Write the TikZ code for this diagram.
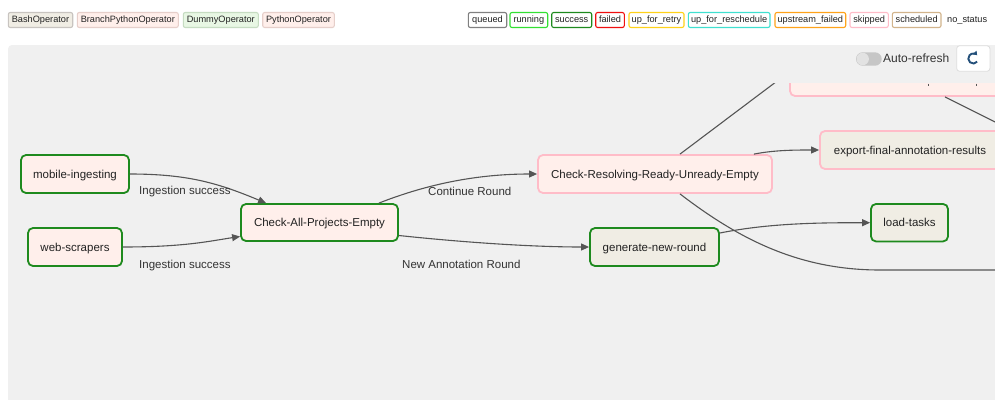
\documentclass[tikz,border=0pt]{standalone}
\usepackage{fontspec}
\setmainfont{Liberation Sans}
\usetikzlibrary{arrows.meta,calc}

% operator fills
\definecolor{bashfill}{HTML}{F0EDE4}
\definecolor{pyfill}{HTML}{FFEFEB}
\definecolor{dummyfill}{HTML}{E8F7E4}
\definecolor{opborder}{HTML}{C8C4C0}
\definecolor{pyborder}{HTML}{E6CFCA}
\definecolor{dummyborder}{HTML}{C6DCC2}
% task state borders
\definecolor{stqueued}{HTML}{808080}
\definecolor{strunning}{HTML}{33E033}
\definecolor{stsuccess}{HTML}{1E8A1E}
\definecolor{stfailed}{HTML}{F01010}
\definecolor{stretry}{HTML}{FFD21A}
\definecolor{stresched}{HTML}{40E0D0}
\definecolor{stupfail}{HTML}{FFA31A}
\definecolor{stskipped}{HTML}{FFBCC8}
\definecolor{stsched}{HTML}{D2B48C}
% canvas and lines
\definecolor{panel}{HTML}{F0F0F0}
\definecolor{edgegray}{HTML}{555555}
\definecolor{txt}{HTML}{222222}
\definecolor{lbl}{HTML}{333333}
\definecolor{pill}{HTML}{C6C6C6}
\definecolor{knob}{HTML}{E2E2E2}
\definecolor{btnborder}{HTML}{DDDDDD}
\definecolor{iconblue}{HTML}{24507A}

\begin{document}
\begin{tikzpicture}[x=1pt,y=-1pt,
  legendbox/.style={draw, rounded corners=2pt, line width=1.1pt, inner sep=0pt,
    minimum height=15pt, fill=white, text=txt, font=\fontsize{9.2}{11}\selectfont,
    text height=7pt, text depth=2pt},
  task/.style={rounded corners=5pt, line width=1.8pt, inner sep=0pt,
    text=txt, font=\fontsize{11.5}{13}\selectfont, text height=10pt, text depth=2pt},
  donebox/.style={task, draw=stsuccess},
  skipbox/.style={task, draw=stskipped},
  edge/.style={draw=edgegray, line width=1.1pt,
    -{Triangle[length=8pt,width=7pt]}},
  plainedge/.style={draw=edgegray, line width=1.1pt},
  edgelabel/.style={inner sep=0pt, anchor=west, text=lbl,
    font=\fontsize{11.5}{13}\selectfont, text height=10pt, text depth=2pt}
]
\useasboundingbox (0,0) rectangle (995,399);
\fill[white] (0,0) rectangle (995,399);

% operator legend
\node[legendbox, fill=bashfill, draw=opborder, minimum width=64.4pt] (lg-bash) at (40.5,20) {BashOperator};
\node[legendbox, fill=pyfill, draw=pyborder, minimum width=101pt] (lg-branch) at (127.8,20) {BranchPythonOperator};
\node[legendbox, fill=dummyfill, draw=dummyborder, minimum width=75pt] (lg-dummy) at (220.8,20) {DummyOperator};
\node[legendbox, fill=pyfill, draw=pyborder, minimum width=71.6pt] (lg-python) at (298.5,20) {PythonOperator};

% state legend
\node[legendbox, draw=stqueued, minimum width=38.4pt] (st-queued) at (487.5,20) {queued};
\node[legendbox, draw=strunning, minimum width=37.7pt] (st-running) at (528.85,20) {running};
\node[legendbox, draw=stsuccess, minimum width=40pt] (st-success) at (571.7,20) {success};
\node[legendbox, draw=stfailed, minimum width=28.6pt] (st-failed) at (610,20) {failed};
\node[legendbox, draw=stretry, minimum width=55pt] (st-retry) at (656.5,20) {up\_for\_retry};
\node[legendbox, draw=stresched, minimum width=81.7pt] (st-resched) at (729.15,20) {up\_for\_reschedule};
\node[legendbox, draw=stupfail, minimum width=70.7pt] (st-upfail) at (810.35,20) {upstream\_failed};
\node[legendbox, draw=stskipped, minimum width=38.3pt] (st-skipped) at (869.15,20) {skipped};
\node[legendbox, draw=stsched, minimum width=48.7pt] (st-sched) at (916.65,20) {scheduled};
\node[inner sep=0pt, anchor=west, text=txt, font=\fontsize{9.2}{11}\selectfont,
  text height=7pt, text depth=2pt] (st-none) at (947,20) {no\_status};

% graph canvas
\fill[panel, rounded corners=4pt] (8,45) rectangle (1010,420);

% auto-refresh switch and refresh button
\fill[pill, rounded corners=6.7pt] (856,52.3) rectangle (881.7,65.7);
\fill[knob] (862.7,59) circle (6.2);
\node[inner sep=0pt, anchor=west, text=lbl, font=\fontsize{12}{14}\selectfont] (autorefresh) at (883,58) {Auto-refresh};
\node[draw=btnborder, fill=white, rounded corners=3pt, line width=0.8pt,
  minimum width=33.3pt, minimum height=25.6pt, inner sep=0pt] (refresh) at (973.3,58.5) {};
\draw[iconblue, line width=1.9pt, -{Triangle[length=3.6pt,width=5pt]}]
  ($(refresh.center)+(40:5)$) arc[start angle=40, end angle=318, radius=5];

\begin{scope}
\clip (8,83.5) rectangle (995,399);

% tasks
\node[donebox, fill=pyfill, minimum width=108pt, minimum height=38pt] (mobile) at (75,174) {mobile-ingesting};
\node[donebox, fill=pyfill, minimum width=94pt, minimum height=38pt] (web) at (75,247) {web-scrapers};
\node[donebox, fill=pyfill, minimum width=157pt, minimum height=37pt] (checkall) at (319.5,222.5) {Check-All-Projects-Empty};
\node[skipbox, fill=pyfill, minimum width=234pt, minimum height=38pt] (checkres) at (655,174) {Check-Resolving-Ready-Unready-Empty};
\node[donebox, fill=bashfill, minimum width=129pt, minimum height=38pt] (newround) at (654.5,247) {generate-new-round};
\node[skipbox, fill=bashfill, minimum width=180pt, minimum height=38pt] (export) at (910,150) {export-final-annotation-results};
\node[donebox, fill=bashfill, minimum width=77pt, minimum height=37.5pt] (loadtasks) at (909.5,222.7) {load-tasks};
\node[skipbox, fill=pyfill, minimum width=220pt, minimum height=38pt] (upper) at (900,77) {};

% loose ends running off the canvas
\coordinate (offright) at (1010,270);
\coordinate (offlower) at (1010,129.5);
\coordinate (tickA) at (928,83.5);
\coordinate (tickB) at (976,83.5);

% dependencies
\draw[edge] (mobile.east) .. controls (190,174) and (220,184) .. ($(checkall.north west)+(26,0)$);
\draw[edge] (web.east) .. controls (185,247) and (210,241) .. ($(checkall.west)+(0,14)$);
\draw[edge] ($(checkall.north east)+(-20,0)$) .. controls (430,183) and (480,174) .. (checkres.west);
\draw[edge] ($(checkall.east)+(0,13)$) .. controls (460,242) and (530,247) .. (newround.west);
\draw[edge] ($(checkres.north east)+(-19,0)$) .. controls (775,150) and (795,150) .. (export.west);
\draw[plainedge] ($(checkres.north)+(25,0)$) -- ($(upper.west)+(0,-5)$);
\draw[plainedge] ($(checkres.south)+(25,0)$) .. controls (740,240) and (800,270) .. (880,270) -- (offright);
\draw[edge] ($(newround.east)+(0,-14)$) .. controls (770,223) and (820,222.7) .. (loadtasks.west);
\draw[plainedge] ($(upper.south)+(45,0)$) -- (offlower);
\draw[plainedge, line width=0.8pt] (tickA) -- ++(0,2);
\draw[plainedge, line width=0.8pt] (tickB) -- ++(0,2);

% edge labels
\node[edgelabel] (lab-mobile) at (139,190) {Ingestion success};
\node[edgelabel] (lab-web) at (139,264) {Ingestion success};
\node[edgelabel] (lab-continue) at (428,191) {Continue Round};
\node[edgelabel] (lab-new) at (402,264) {New Annotation Round};
\end{scope}
\end{tikzpicture}
\end{document}
